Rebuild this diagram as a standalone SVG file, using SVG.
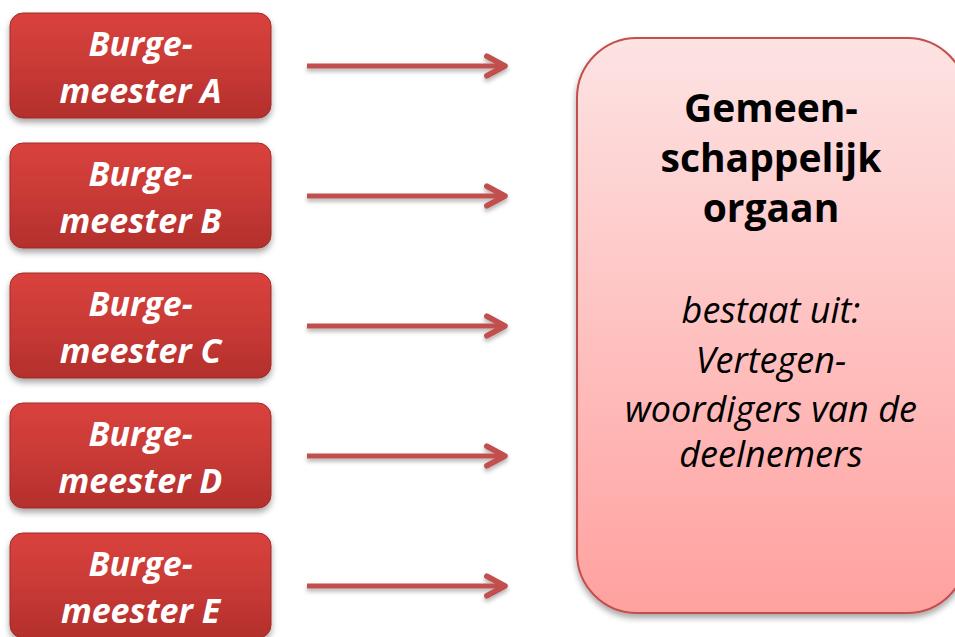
<svg xmlns="http://www.w3.org/2000/svg" width="955" height="637" viewBox="0 0 955 637">
  <defs>
    <linearGradient id="redFill" x1="0" y1="0" x2="0" y2="1">
      <stop offset="0" stop-color="#d9423d"/>
      <stop offset="0.5" stop-color="#c93a36"/>
      <stop offset="1" stop-color="#b32f2c"/>
    </linearGradient>
    <linearGradient id="pinkFill" x1="0" y1="0" x2="0" y2="1">
      <stop offset="0" stop-color="#fde3e3"/>
      <stop offset="1" stop-color="#ffa19f"/>
    </linearGradient>
    <filter id="shadow" x="-10%" y="-10%" width="120%" height="130%">
      <feDropShadow dx="0" dy="4" stdDeviation="3" flood-color="#000" flood-opacity="0.35"/>
    </filter>
    <filter id="lineShadow" filterUnits="userSpaceOnUse" x="0" y="0" width="955" height="637">
      <feDropShadow dx="0" dy="3" stdDeviation="2" flood-color="#000" flood-opacity="0.3"/>
    </filter>
    <marker id="chevron" viewBox="0 0 12 12" refX="10" refY="6" markerWidth="5" markerHeight="6" markerUnits="strokeWidth" orient="auto">
      <path d="M1.3,1.3 L10,6 L1.3,10.7" fill="none" stroke="#c0504d" stroke-width="2.7" stroke-linecap="round" stroke-linejoin="round"/>
    </marker>
  </defs>
  <style>
    .mayor rect { fill: url(#redFill); stroke: #a12a28; stroke-width: 1; filter: url(#shadow); }
    .mayor text { font-family: "Open Sans", "Liberation Sans", sans-serif; font-weight: bold; font-style: italic; font-size: 34px; fill: #ffffff; text-anchor: middle; }
    #connectors { filter: url(#lineShadow); }
    .link { stroke: #c0504d; stroke-width: 5; fill: none; marker-end: url(#chevron); }
    .organ rect { fill: url(#pinkFill); stroke: #c0504d; stroke-width: 2; filter: url(#shadow); }
    .organ text { font-family: "Open Sans", "Liberation Sans", sans-serif; text-anchor: middle; fill: #000000; }
    .organ .title { font-weight: bold; font-size: 39px; }
    .organ .body { font-style: italic; font-size: 36px; }
  </style>

  <g id="connectors">
    <line class="link" x1="307" y1="66" x2="505" y2="66"/>
    <line class="link" x1="307" y1="196" x2="505" y2="196"/>
    <line class="link" x1="307" y1="326" x2="505" y2="326"/>
    <line class="link" x1="307" y1="456" x2="505" y2="456"/>
    <line class="link" x1="307" y1="586" x2="505" y2="586"/>
  </g>

  <g id="burgemeester-a" class="mayor">
    <rect x="10" y="13" width="261" height="105" rx="13"/>
    <text x="140.5" y="56">Burge-</text>
    <text x="140.5" y="103">meester A</text>
  </g>
  <g id="burgemeester-b" class="mayor">
    <rect x="10" y="143" width="261" height="105" rx="13"/>
    <text x="140.5" y="186">Burge-</text>
    <text x="140.5" y="233">meester B</text>
  </g>
  <g id="burgemeester-c" class="mayor">
    <rect x="10" y="273" width="261" height="105" rx="13"/>
    <text x="140.5" y="316">Burge-</text>
    <text x="140.5" y="363">meester C</text>
  </g>
  <g id="burgemeester-d" class="mayor">
    <rect x="10" y="403" width="261" height="105" rx="13"/>
    <text x="140.5" y="446">Burge-</text>
    <text x="140.5" y="493">meester D</text>
  </g>
  <g id="burgemeester-e" class="mayor">
    <rect x="10" y="533" width="261" height="105" rx="13"/>
    <text x="140.5" y="576">Burge-</text>
    <text x="140.5" y="623">meester E</text>
  </g>

  <g id="gemeenschappelijk-orgaan" class="organ">
    <rect x="577" y="38" width="390" height="575" rx="60"/>
    <text class="title" x="771" y="122">Gemeen-</text>
    <text class="title" x="771" y="172">schappelijk</text>
    <text class="title" x="771" y="222">orgaan</text>
    <text class="body" x="771" y="323">bestaat uit:</text>
    <text class="body" x="771" y="373">Vertegen-</text>
    <text class="body" x="771" y="422">woordigers van de</text>
    <text class="body" x="771" y="467">deelnemers</text>
  </g>
</svg>
